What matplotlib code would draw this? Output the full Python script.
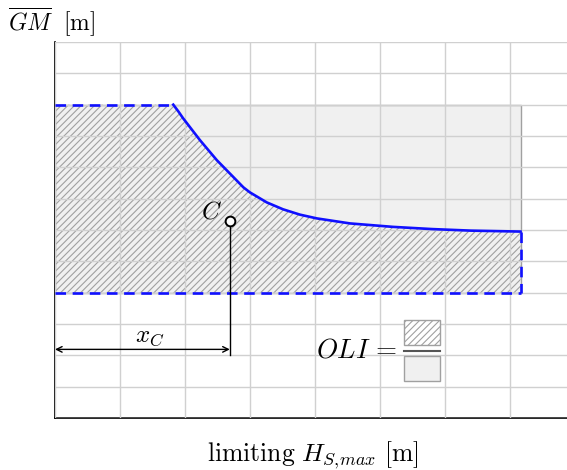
import matplotlib
matplotlib.use("Agg")
import matplotlib.pyplot as plt
from matplotlib.patches import Rectangle

plt.rcParams['mathtext.fontset'] = 'cm'
plt.rcParams['font.family'] = ['DejaVu Serif']
plt.rcParams['hatch.linewidth'] = 0.8
plt.rcParams['hatch.color'] = '#a0a0a0'

# data (axis units: x grid step 1, y grid step 1)
x_max, y_max = 7.88, 12
x_end = 7.165
y_low, y_high = 4.0, 10.0
x_knee = 1.82
curve_x = [1.82, 1.90, 1.97, 2.23, 2.49, 2.74, 2.90, 3.00, 3.26, 3.51, 3.77, 4.03, 4.54, 5.2, 5.8, 6.4, 7.165]
curve_y = [10.0, 9.78, 9.57, 8.87, 8.23, 7.70, 7.36, 7.20, 6.88, 6.66, 6.49, 6.37, 6.21, 6.10, 6.03, 5.98, 5.95]
point_c = (2.69, 6.29)
arrow_y = 2.19

fig = plt.figure(figsize=(5.67, 4.70), dpi=100)
ax = fig.add_axes([55/567, 52/470, 512/567, 376/470])
ax.set_xlim(0, x_max)
ax.set_ylim(0, y_max)
ax.set_xticks(range(0, 8))
ax.set_yticks(range(0, 13))
ax.tick_params(length=0, labelbottom=False, labelleft=False)
ax.grid(True, color='#d0d0d0', lw=1.0, zorder=2.5)
ax.set_axisbelow(False)
for s in ['top', 'right']:
    ax.spines[s].set_visible(False)
for s in ['left', 'bottom']:
    ax.spines[s].set_color('black')
    ax.spines[s].set_linewidth(1.2)

# grey rectangle
ax.add_patch(Rectangle((0, y_low), x_end, y_high - y_low, facecolor='#f0f0f0',
                       edgecolor='#a0a0a0', lw=1.0, zorder=1))

# hatched region
top_x = [0, x_knee] + curve_x[1:]
top_y = [y_high, y_high] + curve_y[1:]
ax.fill_between(top_x, [y_low]*len(top_x), top_y, facecolor='none',
                edgecolor='#a0a0a0', hatch='/////', lw=0, zorder=1.2)

# boundaries
ax.plot([0, x_knee], [y_high, y_high], color='#1010ff', lw=1.9, ls=(0, (4, 2.5)), zorder=4)
ax.plot(curve_x, curve_y, color='#1010ff', lw=1.9, zorder=4)
ax.plot([x_end, x_end], [curve_y[-1], y_low], color='#1010ff', lw=1.9, ls=(0, (4, 2.5)), zorder=4)
ax.plot([0, x_end], [y_low, y_low], color='#1010ff', lw=1.9, ls=(0, (4, 2.5)), zorder=4)

# point C
ax.plot([point_c[0], point_c[0]], [point_c[1], 2.0], color='black', lw=1.0, zorder=5)
ax.plot(point_c[0], point_c[1], 'o', ms=7, mfc='white', mec='black', mew=1.4, zorder=6)
ax.text(point_c[0] - 0.12, point_c[1] - 0.08, r'$C$', fontsize=18, ha='right', va='bottom', zorder=6)

# x_C arrow
ax.annotate('', xy=(0, arrow_y), xytext=(point_c[0], arrow_y),
            arrowprops=dict(arrowstyle='<->', color='black', lw=1.0,
                            shrinkA=0, shrinkB=0, mutation_scale=10), zorder=6)
ax.text(point_c[0] / 2 + 0.12, arrow_y + 0.05, r'$x_C$', fontsize=18, ha='center', va='bottom')

# OLI formula
fig.text(397/567, 1 - 350/470, r'$OLI\,=$', fontsize=19.5, ha='right', va='center')
fig.add_artist(Rectangle((404/567, 1 - 345/470), 36/567, 25/470, transform=fig.transFigure,
                         facecolor='white', edgecolor='#a0a0a0', hatch='/////', lw=1.0))
fig.add_artist(Rectangle((404/567, 1 - 381/470), 36/567, 25/470, transform=fig.transFigure,
                         facecolor='#f0f0f0', edgecolor='#a0a0a0', lw=1.0))
fig.add_artist(plt.Line2D([404/567, 440/567], [1 - 351/470, 1 - 351/470],
                          transform=fig.transFigure, color='#555555', lw=1.5))

# labels
fig.text(8/567, 1 - 22/470, r'$\overline{GM}\ \ \mathrm{[m]}$', fontsize=17, ha='left', va='center')
fig.text(313/567, 1 - 461/470, r'$\mathrm{limiting}\ H_{S,\!max}\ \mathrm{[m]}$', fontsize=18.5,
         ha='center', va='baseline')

fig.savefig('out.png', dpi=100)
